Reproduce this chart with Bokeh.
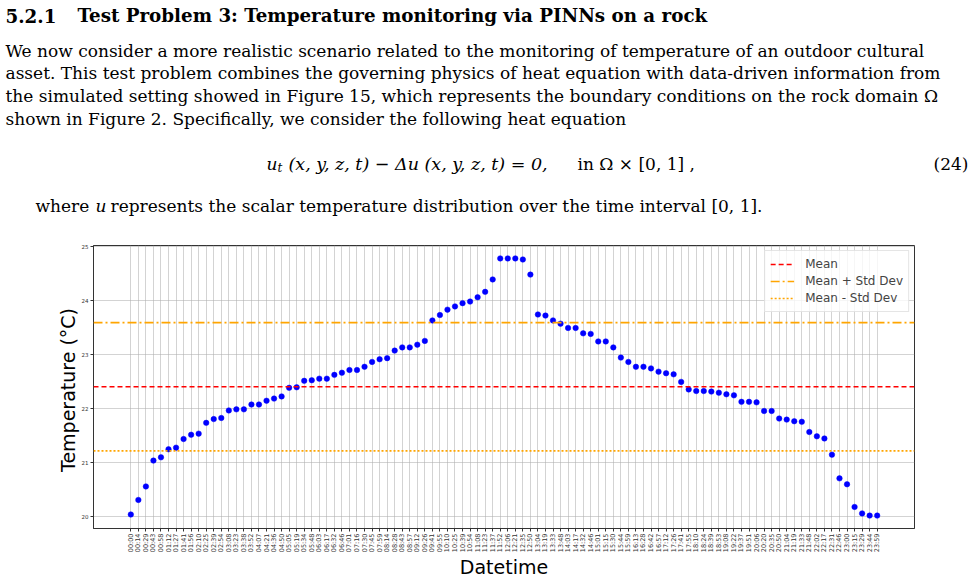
import math
from bokeh.plotting import figure
from bokeh.models import FactorRange, Range1d, Span, Legend, LegendItem, FixedTicker
from bokeh.layouts import column
from bokeh.core.properties import value
from bokeh.embed import file_html
from bokeh.resources import INLINE

# ---------------- data ----------------
times = [
    "00:00", "00:14", "00:29", "00:43", "00:58", "01:12", "01:27", "01:41", "01:56", "02:10",
    "02:25", "02:39", "02:54", "03:08", "03:23", "03:38", "03:52", "04:07", "04:21", "04:36",
    "04:50", "05:05", "05:19", "05:34", "05:48", "06:03", "06:17", "06:32", "06:46", "07:01",
    "07:16", "07:30", "07:45", "07:59", "08:14", "08:28", "08:43", "08:57", "09:12", "09:26",
    "09:41", "09:55", "10:10", "10:25", "10:39", "10:54", "11:08", "11:23", "11:37", "11:52",
    "12:06", "12:21", "12:35", "12:50", "13:04", "13:19", "13:33", "13:48", "14:03", "14:17",
    "14:32", "14:46", "15:01", "15:15", "15:30", "15:44", "15:59", "16:13", "16:28", "16:42",
    "16:57", "17:12", "17:26", "17:41", "17:55", "18:10", "18:24", "18:39", "18:53", "19:08",
    "19:22", "19:37", "19:51", "20:06", "20:20", "20:35", "20:50", "21:04", "21:19", "21:33",
    "21:48", "22:02", "22:17", "22:31", "22:46", "23:00", "23:15", "23:29", "23:44", "23:59",
]
temperature = [
    20.03, 20.30, 20.55, 21.03, 21.09, 21.24, 21.27, 21.43, 21.51, 21.53,
    21.73, 21.80, 21.82, 21.96, 21.98, 21.98, 22.07, 22.07, 22.14, 22.18,
    22.22, 22.38, 22.39, 22.51, 22.52, 22.55, 22.55, 22.62, 22.66, 22.71,
    22.71, 22.77, 22.86, 22.91, 22.93, 23.07, 23.13, 23.13, 23.18, 23.25,
    23.63, 23.73, 23.83, 23.89, 23.95, 23.98, 24.06, 24.16, 24.39, 24.78,
    24.78, 24.78, 24.76, 24.48, 23.74, 23.72, 23.63, 23.57, 23.49, 23.49,
    23.39, 23.38, 23.24, 23.24, 23.13, 22.94, 22.86, 22.77, 22.77, 22.74,
    22.68, 22.65, 22.63, 22.49, 22.35, 22.32, 22.32, 22.31, 22.29, 22.26,
    22.24, 22.12, 22.12, 22.11, 21.95, 21.95, 21.81, 21.79, 21.76, 21.75,
    21.56, 21.48, 21.44, 21.14, 20.70, 20.59, 20.17, 20.05, 20.01, 20.01,
]
mean_value = 22.40
std_value = 1.19
y_ticks = [20, 21, 22, 23, 24, 25]
legend_labels = ["Mean", "Mean + Std Dev", "Mean - Std Dev"]

# ---------------- page text (top) ----------------
SERIF = "DejaVu Serif"
tp = figure(width=975, height=235, x_range=Range1d(0, 975), y_range=Range1d(235, 0),
            x_axis_type=None, y_axis_type=None, output_backend="svg", toolbar_location=None,
            min_border=0, outline_line_color=None, frame_align=False)
tp.grid.visible = False

def txt(x, y, s, size="17px", style="normal", align="left"):
    tp.text(x=[x], y=[y], text=[s], text_font=value(SERIF), text_font_size=size,
            text_font_style=style, text_baseline="middle", text_align=align, text_color="#000000")

txt(5, 15, "5.2.1", "18.3px", "bold")
txt(77, 15, "Test Problem 3: Temperature monitoring via PINNs on a rock", "18.3px", "bold")
para = [
    "We now consider a more realistic scenario related to the monitoring of temperature of an outdoor cultural",
    "asset. This test problem combines the governing physics of heat equation with data-driven information from",
    "the simulated setting showed in Figure 15, which represents the boundary conditions on the rock domain \u03a9",
    "shown in Figure 2. Specifically, we consider the following heat equation",
]
for k, line in enumerate(para):
    txt(5, 50 + k * 22.7, line, "17px")

txt(266, 163, "u", "17px", "italic")
txt(277, 167, "t", "12px", "italic")
txt(288, 163, "(x, y, z, t) \u2212 \u0394u (x, y, z, t) = 0,", "17.5px", "italic")
txt(577, 163, "in \u03a9 \u00d7 [0, 1] ,", "17px")
txt(968, 163, "(24)", "17px", "normal", "right")

txt(35, 205, "where", "17px")
txt(95, 205, "u", "17px", "italic")
txt(110, 205, "represents the scalar temperature distribution over the time interval [0, 1].", "17px")

# ---------------- chart ----------------
p = figure(width=975, height=346,
           x_range=FactorRange(factors=times, range_padding=4.45, range_padding_units="absolute"),
           y_range=Range1d(19.77, 25.02),
           output_backend="svg", toolbar_location=None, frame_align=False,
           min_border_left=93, min_border_right=61, min_border_top=10, min_border_bottom=49)

p.scatter(x=times, y=temperature, size=5.5, fill_color="#0000ff", line_color="#0000ff",
          line_width=0.5)

span_styles = [
    (mean_value, "#ff0000", "5 3", 1.6),
    (mean_value + std_value, "#ffa500", "9 3 2 3", 1.6),
    (mean_value - std_value, "#ffa500", "2 2", 1.6),
]
items = []
for (loc, col, dash, w), lab in zip(span_styles, legend_labels):
    p.add_layout(Span(location=loc, dimension="width", line_color=col, line_dash=dash, line_width=w))
    # legend-only renderer: one point with no drawable value
    r = p.line(x=[times[0]], y=[float("nan")], line_color=col, line_dash=dash, line_width=w)
    items.append(LegendItem(label=lab, renderers=[r]))

legend = Legend(items=items, location="top_right", margin=5,
                label_text_font="DejaVu Sans", label_text_font_size="12px",
                glyph_width=24, glyph_height=16, label_height=16, spacing=1, padding=5,
                label_standoff=11, border_line_color="#cccccc", border_line_width=1,
                background_fill_alpha=0.8)
p.add_layout(legend)

p.outline_line_color = "#333333"
p.outline_line_width = 1
for g in (p.xgrid, p.ygrid):
    g.grid_line_color = "#b0b0b0"
    g.grid_line_alpha = 0.7
    g.grid_line_width = 0.8

p.yaxis.ticker = FixedTicker(ticks=y_ticks)
p.yaxis.minor_tick_line_color = None
for ax in (p.xaxis, p.yaxis):
    ax.axis_line_color = "#333333"
    ax.major_tick_line_color = "#333333"
    ax.major_tick_out = 3
    ax.major_tick_in = 0
    ax.major_label_standoff = 2
    ax.major_label_text_font = "DejaVu Sans"
    ax.major_label_text_color = "#333333"
    ax.axis_label_text_font = "DejaVu Sans"
    ax.axis_label_text_font_style = "normal"
    ax.axis_label_text_font_size = "19px"
    ax.axis_label_text_color = "#000000"

p.xaxis.major_label_orientation = math.pi / 2
p.xaxis.major_label_text_font_size = "6.5px"
p.yaxis.major_label_text_font_size = "5.5px"
p.xaxis.axis_label = "Datetime"
p.yaxis.axis_label = "Temperature  (\u00b0C)"
p.xaxis.axis_label_standoff = 1
p.yaxis.axis_label_standoff = 0

layout = column(tp, p, spacing=0)
open("out.html", "w").write(file_html(layout, INLINE))
